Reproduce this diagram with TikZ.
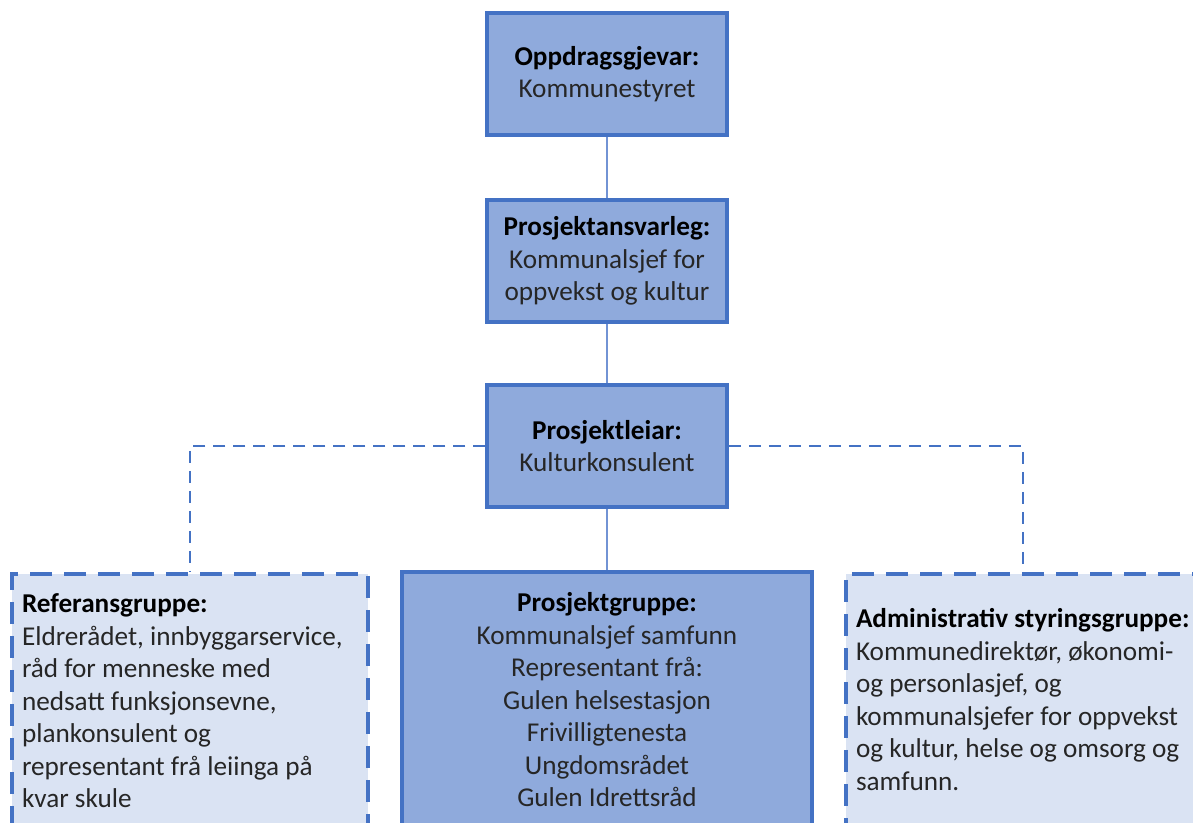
\documentclass[tikz,border=0pt]{standalone}
\usepackage{fontspec}
\setmainfont{Carlito}
\definecolor{boxfill}{RGB}{143,170,220}
\definecolor{boxline}{RGB}{68,114,196}
\definecolor{lightfill}{RGB}{218,227,243}
\definecolor{conn}{RGB}{114,147,212}
\definecolor{txt}{RGB}{38,38,38}
\begin{document}
\begin{tikzpicture}[x=1pt,y=-1pt,
  every node/.style={font=\fontsize{27.2}{32.5}\selectfont, text=txt},
  topbox/.style={draw=boxline, line width=3.5pt, fill=boxfill, minimum width=240pt, minimum height=122pt, align=center, inner sep=0pt},
  groupbox/.style={draw=boxline, line width=3.5pt, inner ysep=0pt, inner xsep=10pt},
  dashbox/.style={groupbox, fill=lightfill, dash pattern=on 22pt off 12pt},
  solidconn/.style={draw=conn, line width=2pt},
  dashconn/.style={draw=boxline, line width=2pt, dash pattern=on 12pt off 8pt}
]
\useasboundingbox (0,0) rectangle (1193,822);
\begin{scope}
\clip (0,0) rectangle (1193,822);
\node[topbox] (b1) at (607,74) {\textbf{\color{black}Oppdragsgjevar:}\\Kommunestyret};
\node[topbox] (b2) at (607,261) {\textbf{\color{black}Prosjektansvarleg:}\\Kommunalsjef for\\oppvekst og kultur};
\node[topbox] (b3) at (607,446) {\textbf{\color{black}Prosjektleiar:}\\Kulturkonsulent};
\node[groupbox, fill=boxfill, anchor=north] (pg) at (607,570) {\parbox[t][280pt][t]{390pt}{\centering\rule{0pt}{40pt}\textbf{\color{black}Prosjektgruppe:}\\Kommunalsjef samfunn\\Representant frå:\\Gulen helsestasjon\\Frivilligtenesta\\Ungdomsrådet\\Gulen Idrettsråd}};
\node[dashbox, anchor=north] (ref) at (190,572) {\parbox[t][280pt][t]{336pt}{\raggedright\rule{0pt}{39pt}\textbf{\color{black}Referansgruppe:}\\Eldrerådet, innbyggarservice,\\råd for menneske med\\nedsatt funksjonsevne,\\plankonsulent og\\representant frå leiinga på\\kvar skule}};
\node[dashbox, anchor=north] (adm) at (1038,572) {\parbox[t][280pt][t]{364pt}{\raggedright\rule{0pt}{54pt}\textbf{\color{black}Administrativ styringsgruppe:}\\Kommunedirektør, økonomi-\\og personlasjef, og\\kommunalsjefer for oppvekst\\og kultur, helse og omsorg og\\samfunn.}};
\end{scope}
\draw[solidconn] (b1.south) -- (b2.north);
\draw[solidconn] (b2.south) -- (b3.north);
\draw[solidconn] (b3.south) -- (pg.north);
\draw[dashconn] (b3.west) -| (ref.north);
\draw[dashconn] (b3.east) -| ([xshift=-15pt]adm.north);
\end{tikzpicture}
\end{document}
